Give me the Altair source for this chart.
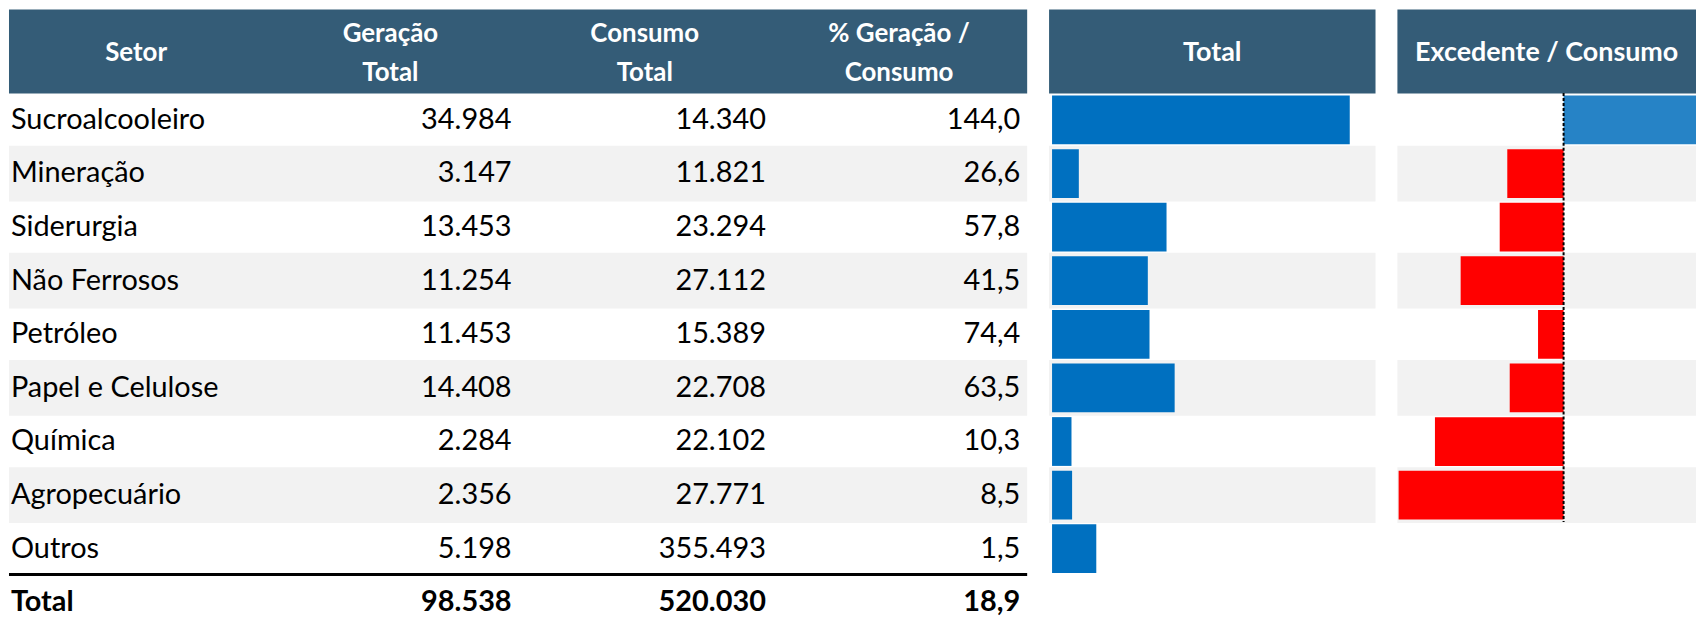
import altair as alt
import pandas as pd

sectors = ["Sucroalcooleiro", "Mineração", "Siderurgia", "Não Ferrosos", "Petróleo",
           "Papel e Celulose", "Química", "Agropecuário", "Outros"]
geracao = [34984, 3147, 13453, 11254, 11453, 14408, 2284, 2356, 5198]
consumo = [14340, 11821, 23294, 27112, 15389, 22708, 22102, 27771, 355493]
pct = [144.0, 26.6, 57.8, 41.5, 74.4, 63.5, 10.3, 8.5, 1.5]
shaded = [False, True, False, True, False, True, False, True, False]

total_label = "Total"
total_geracao = 98538
total_consumo = 520030
total_pct = 18.9

columns = ["Setor", "Geração Total", "Consumo Total", "% Geração / Consumo"]
header_texts = ["Setor", "Geração\nTotal", "Consumo\nTotal", "% Geração /\nConsumo"]
panel_titles = ["Total", "Excedente / Consumo"]

FONT = "Lato"
HEADER = "#345C77"
GREY = "#F2F2F2"

rows_domain = sectors + [total_label]
STEP = 53.85
Y0 = 84.1
HALF = 127.75
yscale = alt.Scale(domain=rows_domain, range=[Y0, Y0 + STEP * len(rows_domain)],
                   paddingInner=0, paddingOuter=0)
colscale = alt.Scale(domain=columns, range=[1, 1023], paddingInner=0, paddingOuter=0)
totscale = alt.Scale(domain=[0, 40000], range=[1049, 1391])
excscale = alt.Scale(domain=[-25600, 20000], range=[1396, 1693.4])
pixscale = alt.Scale(domain=[0, 1696], range=[0, 1696])

df = pd.DataFrame({"sector": sectors, "geracao": geracao, "consumo": consumo,
                   "pct": pct, "shaded": shaded})

cells = []
for s, g, c, p in zip(sectors, geracao, consumo, pct):
    cells.append({"sector": s, "col": "Geração Total", "v": g, "fmt": "int", "bold": False})
    cells.append({"sector": s, "col": "Consumo Total", "v": c, "fmt": "int", "bold": False})
    cells.append({"sector": s, "col": "% Geração / Consumo", "v": p, "fmt": "dec", "bold": False})
cells.append({"sector": total_label, "col": "Geração Total", "v": total_geracao, "fmt": "int", "bold": True})
cells.append({"sector": total_label, "col": "Consumo Total", "v": total_consumo, "fmt": "int", "bold": True})
cells.append({"sector": total_label, "col": "% Geração / Consumo", "v": total_pct, "fmt": "dec", "bold": True})
cells_df = pd.DataFrame(cells)

base = alt.Chart(df)
Y = alt.Y("sector:N", scale=yscale, axis=None)
XC = alt.X("col:N", scale=colscale, axis=None)

# row backgrounds
bg_table = base.transform_filter("datum.shaded").mark_bar(size=56, color=GREY).encode(
    y=Y, x=alt.value(1), x2=alt.value(1024))
bg_tot = base.transform_filter("datum.shaded").mark_bar(size=56, color=GREY).encode(
    y=Y, x=alt.value(1046), x2=alt.value(1374))
bg_exc = base.transform_filter("datum.shaded && datum.sector != 'Outros'").mark_bar(size=56, color=GREY).encode(
    y=Y, x=alt.value(1396), x2=alt.value(1696))

# headers
hdr_df = pd.DataFrame({"col": columns, "label": header_texts,
                       "lines": [t.count("\n") + 1 for t in header_texts]})
hdr_rects = alt.Chart(pd.DataFrame({"a": [1, 1046, 1396], "b": [1024, 1374, 1696]})).mark_rect(color=HEADER).encode(
    x=alt.X("a:Q", scale=pixscale, axis=None),
    x2="b:Q", y=alt.value(0), y2=alt.value(84.5))
hdr_text1 = alt.Chart(hdr_df).transform_filter("datum.lines == 1").mark_text(
    font=FONT, fontSize=26, fontWeight="bold", color="white",
    baseline="middle", align="center").encode(x=XC, y=alt.value(44), text="label:N")
hdr_text2 = alt.Chart(hdr_df).transform_filter("datum.lines == 2").mark_text(
    font=FONT, fontSize=26, fontWeight="bold", color="white",
    lineBreak="\n", lineHeight=39, baseline="middle", align="center").encode(
    x=XC, y=alt.value(25), text="label:N")
panel_df = pd.DataFrame({"label": panel_titles, "cx": [1210, 1546]})
panel_text = alt.Chart(panel_df).mark_text(font=FONT, fontSize=27, fontWeight="bold", color="white",
                                            baseline="middle", align="center").encode(
    x=alt.X("cx:Q", scale=pixscale, axis=None),
    y=alt.value(44), text="label:N")

# table text
sec_df = pd.DataFrame({"sector": rows_domain, "col": ["Setor"] * len(rows_domain),
                       "bold": [False] * len(sectors) + [True]})
sector_text = alt.Chart(sec_df).transform_filter("!datum.bold").mark_text(
    font=FONT, fontSize=29, align="left", baseline="middle", dx=-HALF + 2, color="black").encode(
    y=Y, x=XC, text="sector:N")
sector_text_b = alt.Chart(sec_df).transform_filter("datum.bold").mark_text(
    font=FONT, fontSize=29, fontWeight="bold", align="left", baseline="middle", dx=-HALF + 2,
    color="black").encode(y=Y, x=XC, text="sector:N")

num_base = alt.Chart(cells_df).transform_calculate(
    txt="datum.fmt == 'int' ? format(datum.v, ',.0f') : format(datum.v, '.1f')")
num_text = num_base.transform_filter("!datum.bold").mark_text(
    font=FONT, fontSize=29, align="right", baseline="middle", dx=HALF - 6, color="black").encode(
    y=Y, x=XC, text="txt:N")
num_text_b = num_base.transform_filter("datum.bold").mark_text(
    font=FONT, fontSize=29, fontWeight="bold", align="right", baseline="middle", dx=HALF - 6,
    color="black").encode(y=Y, x=XC, text="txt:N")

sep = alt.Chart(pd.DataFrame({"a": [0]})).mark_rule(color="black", strokeWidth=3).encode(
    x=alt.value(1), x2=alt.value(1024), y=alt.value(Y0 + STEP * 9 - 1))

# Total bars
tot_bars = base.mark_bar(size=49, color="#0070C0").encode(
    y=Y, x=alt.X("geracao:Q", scale=totscale, axis=None), x2=alt.datum(0))

# Excedente bars
exc_bars = base.transform_filter("datum.sector != 'Outros'").transform_calculate(
    exc="datum.geracao - datum.consumo",
    pos="datum.geracao - datum.consumo >= 0"
).mark_bar(size=49).encode(
    y=Y, x=alt.X("exc:Q", scale=excscale, axis=None), x2=alt.datum(0),
    color=alt.condition("datum.pos", alt.value("#2683C6"), alt.value("#FF0000")))

zero = alt.Chart(pd.DataFrame({"a": [0]})).mark_rule(color="black", strokeWidth=2, strokeDash=[3, 2]).encode(
    x=alt.X("a:Q", scale=excscale, axis=None), y=alt.value(84), y2=alt.value(Y0 + STEP * 8))

chart = alt.layer(
    bg_table, bg_tot, bg_exc, hdr_rects, hdr_text1, hdr_text2, panel_text,
    sector_text, sector_text_b, num_text, num_text_b, sep, tot_bars, exc_bars, zero
).resolve_scale(x="independent").properties(
    width=1696, height=611, padding=0,
    autosize=alt.AutoSizeParams(type="none")
).configure(
    locale=alt.Locale(number=alt.NumberLocale(decimal=",", thousands=".", grouping=[3], currency=["R$", ""])),
    view=alt.ViewConfig(stroke=None)
)

chart.save("out.html", embed_options={"renderer": "svg", "actions": False})
